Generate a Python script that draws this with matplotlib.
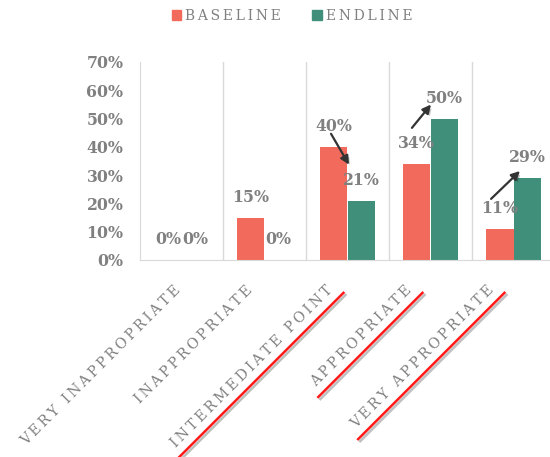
import matplotlib
matplotlib.use("Agg")
import matplotlib.pyplot as plt
import matplotlib.transforms as mtransforms
import matplotlib.patheffects as pe
from matplotlib.lines import Line2D
from matplotlib.patches import Patch
import numpy as np

categories = ["VERY INAPPROPRIATE", "INAPPROPRIATE", "INTERMEDIATE POINT",
              "APPROPRIATE", "VERY APPROPRIATE"]
baseline = [0, 15, 40, 34, 11]
endline = [0, 0, 21, 50, 29]
y_ticks = [0, 10, 20, 30, 40, 50, 60, 70]
highlighted = ["INTERMEDIATE POINT", "APPROPRIATE", "VERY APPROPRIATE"]

RED = "#F26A5B"
GREEN = "#3F8F7B"
GRAY = "#808080"
LINE = "#D9D9D9"
THIN = "\u2009"


def spaced(s):
    return THIN.join(s)


fig = plt.figure(figsize=(5.5, 4.57), dpi=100)
ax = fig.add_axes([140 / 550, 197 / 457, 415 / 550, 198 / 457])

x = np.arange(len(categories))
w = 0.33
ax.bar(x - w / 2, baseline, w, color=RED, label="BASELINE")
ax.bar(x + w / 2, endline, w, color=GREEN, label="ENDLINE")

ax.set_xlim(-0.5, len(categories) - 0.5)
ax.set_ylim(0, 70)
ax.set_yticks(y_ticks)
ax.set_yticklabels([f"{t}%" for t in y_ticks], family="DejaVu Serif",
                   fontweight="bold", fontsize=11.3, color=GRAY)
ax.tick_params(axis="y", length=0, pad=12)
ax.tick_params(axis="x", length=0, pad=20)

for s in ["top", "right"]:
    ax.spines[s].set_visible(False)
ax.spines["left"].set_color(LINE)
ax.spines["bottom"].set_color(LINE)
for b in np.arange(0.5, len(categories) - 0.5, 1):
    ax.axvline(b, color=LINE, lw=1, zorder=0)

ax.set_xticks(x)
ax.set_xticklabels([spaced(c) for c in categories], rotation=45, ha="right",
                   va="center", rotation_mode="anchor", family="DejaVu Serif",
                   fontsize=10.2, color=GRAY)
# horizontal nudges (pixels) keeping the long first label inside the figure
label_dx = [-3, -14, -17, -21, -22]
for lab, dx in zip(ax.get_xticklabels(), label_dx):
    shift = mtransforms.ScaledTranslation(dx / 100, 0, fig.dpi_scale_trans)
    lab.set_transform(lab.get_transform() + shift)

label_kw = dict(textcoords="offset points", ha="center", va="center",
                family="DejaVu Serif", fontweight="bold", fontsize=11.3,
                color=GRAY)
for xi, v in zip(x - w / 2, baseline):
    ax.annotate(f"{v}%", xy=(xi, v), xytext=(0, 14.4), **label_kw)
for xi, v in zip(x + w / 2, endline):
    ax.annotate(f"{v}%", xy=(xi, v), xytext=(0, 14.4), **label_kw)

# arrows from the baseline bar top to the endline bar top (offsets in points)
arrow_links = {2: ((-2, 9.4), (-8.8, 25.9)),
               3: ((-3.5, 25.9), (-9.5, 10.1)),
               4: ((-6.3, 21.6), (-5.2, 5))}
shadow = [pe.SimplePatchShadow(offset=(1.5, -1.5), alpha=0.25), pe.Normal()]
for i, ((sx, sy), (ex, ey)) in arrow_links.items():
    t_start = mtransforms.offset_copy(ax.transData, fig, x=sx, y=sy, units="points")
    t_end = mtransforms.offset_copy(ax.transData, fig, x=ex, y=ey, units="points")
    ax.annotate("", xy=(i + w / 2, endline[i]), xycoords=t_end,
                xytext=(i - w / 2, baseline[i]), textcoords=t_start,
                arrowprops=dict(arrowstyle="-|>,head_length=0.5,head_width=0.25",
                                color="#333333", lw=1.6, shrinkA=0, shrinkB=0,
                                path_effects=shadow),
                annotation_clip=False)

handles = [Patch(color=RED), Patch(color=GREEN)]
leg = fig.legend(handles, [spaced("BASELINE"), spaced("ENDLINE")],
                 loc="center", bbox_to_anchor=(292 / 550, 1 - 16 / 457),
                 ncol=2, frameon=False, handlelength=0.7, handleheight=0.7,
                 handletextpad=0.3, columnspacing=2.2,
                 prop=dict(family="DejaVu Serif", size=10))
for t in leg.get_texts():
    t.set_color(GRAY)

# red underlines under selected category labels
fig.canvas.draw()
renderer = fig.canvas.get_renderer()
line_shadow = [pe.SimpleLineShadow(offset=(1.5, -1.5), alpha=0.25), pe.Normal()]
for cat, lab in zip(categories, ax.get_xticklabels()):
    if cat not in highlighted:
        continue
    bb = lab.get_window_extent(renderer)
    x0, y0 = bb.x0 + 10, bb.y0 - 8
    x1, y1 = bb.x1 + 8, bb.y1 - 10
    fig.add_artist(Line2D([x0, x1], [y0, y1], transform=None, color="#FF1A1A",
                          lw=1.8, path_effects=line_shadow))

fig.savefig("out.png", dpi=100)
